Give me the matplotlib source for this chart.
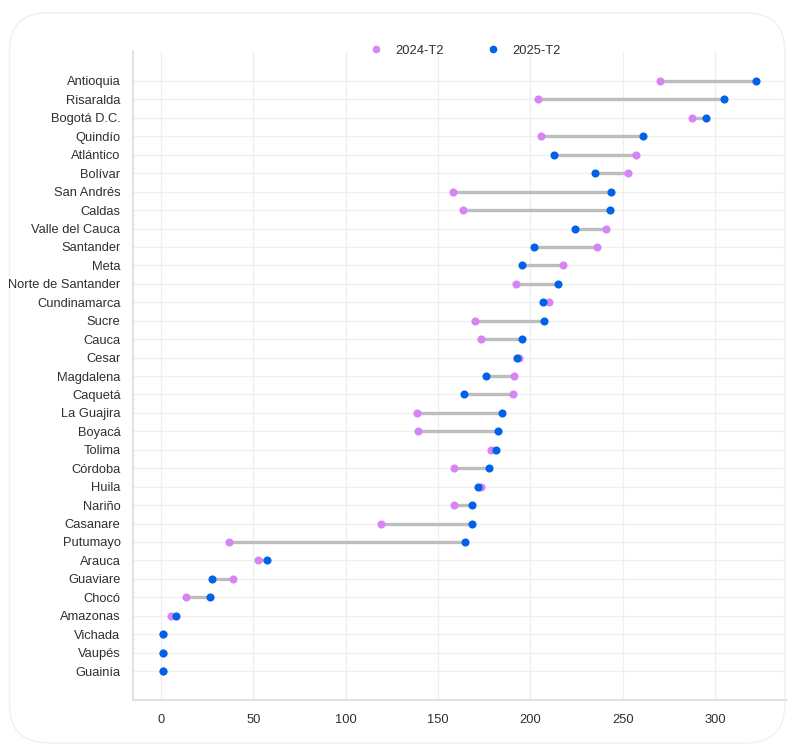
import matplotlib.pyplot as plt
from matplotlib.lines import Line2D
from matplotlib.patches import FancyBboxPatch

plt.rcParams['font.family'] = ['Liberation Sans', 'DejaVu Sans']

departamentos = ["Antioquia", "Risaralda", "Bogotá D.C.", "Quindío", "Atlántico", "Bolívar",
                 "San Andrés", "Caldas", "Valle del Cauca", "Santander", "Meta",
                 "Norte de Santander", "Cundinamarca", "Sucre", "Cauca", "Cesar", "Magdalena",
                 "Caquetá", "La Guajira", "Boyacá", "Tolima", "Córdoba", "Huila", "Nariño",
                 "Casanare", "Putumayo", "Arauca", "Guaviare", "Chocó", "Amazonas",
                 "Vichada", "Vaupés", "Guainía"]
t2_2024 = [270, 204, 287.5, 206, 257, 253, 158, 163.5, 241, 236, 217.5,
           192, 210, 170, 173, 194, 191, 190.5, 138.5, 139, 178.5, 158.5,
           173, 158.5, 119, 37, 52.5, 39, 13.5, 5.5, 1, 1, 1]
t2_2025 = [322, 305, 295, 261, 213, 235, 243.5, 243, 224, 202, 195.5,
           215, 207, 207.5, 195.5, 193, 176, 164, 184.5, 182.5, 181.5, 177.5,
           171.5, 168.5, 168.5, 164.5, 57.5, 27.5, 26.5, 8, 1, 1, 1]

c24 = '#d883f6'
c25 = '#0062e8'

fig = plt.figure(figsize=(7.95, 7.49), dpi=100)
# card background (screenshot frame)
card = FancyBboxPatch((0.012, 0.008), 0.975, 0.975, boxstyle="round,pad=0,rounding_size=0.05",
                      transform=fig.transFigure, facecolor='white', edgecolor='#f0f0f0',
                      linewidth=1.0, zorder=-10)
fig.patches.append(card)

ax = fig.add_axes([0.1673, 0.0654, 0.8227, 0.8666])
ax.set_facecolor('none')

ypos = list(range(len(departamentos)))
ax.hlines(ypos, t2_2024, t2_2025, color='#bdbdbd', linewidth=2.4, zorder=2)
ax.scatter(t2_2024, ypos, s=34, color=c24, zorder=3, linewidths=0)
ax.scatter(t2_2025, ypos, s=34, color=c25, zorder=4, linewidths=0)

ax.set_yticks(ypos)
ax.set_yticklabels(departamentos)
ax.set_ylim(len(departamentos) - 1 + 1.57, -1.63)
ax.set_xlim(-15.2, 339)
ax.set_xticks([0, 50, 100, 150, 200, 250, 300])

ax.grid(True, color='#efefef', linewidth=0.9, zorder=0)
ax.set_axisbelow(True)
for s in ['top', 'right']:
    ax.spines[s].set_visible(False)
for s in ['left', 'bottom']:
    ax.spines[s].set_color('#dcdcdc')
    ax.spines[s].set_linewidth(1.2)
ax.tick_params(axis='both', length=0, labelsize=9.3, labelcolor='#2f2f2f')
ax.tick_params(axis='y', pad=9)
ax.tick_params(axis='x', pad=10)

handles = [Line2D([], [], marker='o', linestyle='none', color=c24, markersize=4.5),
           Line2D([], [], marker='o', linestyle='none', color=c25, markersize=4.5)]
fig.legend(handles, ['2024-T2', '2025-T2'], loc='center', bbox_to_anchor=(0.584, 0.932),
           ncol=2, frameon=False, fontsize=9.3, labelcolor='#2f2f2f',
           handletextpad=0.9, columnspacing=3.2, handlelength=1.2)

fig.savefig('out.png', dpi=100)
